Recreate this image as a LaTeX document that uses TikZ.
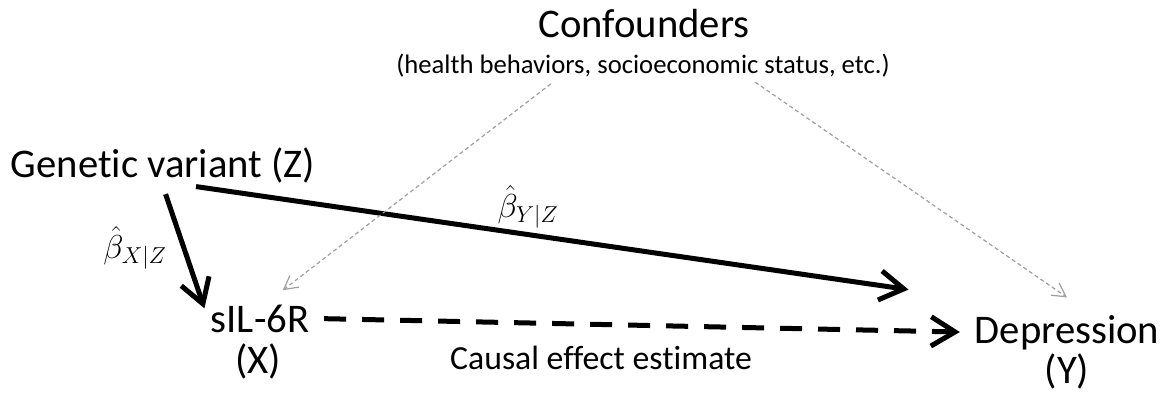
\documentclass[tikz,border=0pt]{standalone}
\usepackage{fontspec}
\setmainfont{Carlito}[Ligatures=NoCommon]
\usetikzlibrary{arrows.meta}

\begin{document}
\begin{tikzpicture}[
    x=0.75pt, y=-0.75pt,
    var/.style={inner sep=2pt, anchor=base, font=\fontsize{30.5}{36}\selectfont},
    note/.style={inner sep=2pt, anchor=base, font=\fontsize{20}{24}\selectfont},
    coef/.style={inner sep=0pt, font=\fontsize{25}{30}\selectfont},
    causal/.style={line width=3.75pt, -{Straight Barb[length=18pt,width=22pt]}},
    estim/.style={causal, dash pattern=on 16.5pt off 12pt},
    confarr/.style={line width=0.9pt, draw=gray!75, dash pattern=on 3pt off 2.2pt,
      -{Straight Barb[length=10pt,width=11pt,line width=0.9pt]}}
  ]
  \useasboundingbox (0,0) rectangle (1173,395);

  % confounders on top
  \node[var] (conf) at (644,38) {Confounders};
  \node[note] (confsub) at (643,74)
    {(health behaviors, socioeconomic status, etc.)};

  % the three variables
  \node[var] (gen) at (163,178) {Genetic variant (Z)};
  \node[var] (sil) at (260,332) {sIL-6R};
  \node[var] (silx) at (258,373) {(X)};
  \node[var] (dep) at (1067,343) {Depression};
  \node[var] (depy) at (1067,383) {(Y)};

  % estimates
  \node[coef] (bxz) at (135,248) {$\hat{\beta}_{X|Z}$};
  \node[coef] (byz) at (528,207) {$\hat{\beta}_{Y|Z}$};
  \node[var, font=\fontsize{25.3}{30}\selectfont] (cee) at (601,369)
    {Causal effect estimate};

  \draw[causal, shorten <=6pt, shorten >=8pt] (gen.south) -- (sil.west);
  \draw[causal, shorten >=48pt]
    ([xshift=24.75pt]gen.south) -- ([yshift=10pt]dep.north west);
  \draw[estim, shorten <=9pt, shorten >=9pt] (sil.east) -- (dep.west);

  \draw[confarr, shorten <=4pt, shorten >=14pt]
    ([xshift=-66pt]confsub.south) -- ([xshift=6pt]sil.north);
  \draw[confarr, shorten <=2pt]
    ([xshift=82.5pt]confsub.south) -- ([yshift=11pt]dep.north);
\end{tikzpicture}
\end{document}
